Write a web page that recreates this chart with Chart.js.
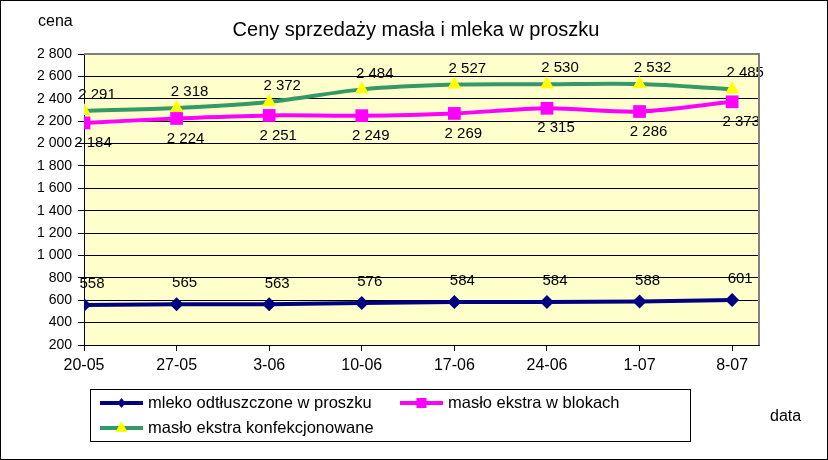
<!DOCTYPE html>
<html>
<head>
<meta charset="utf-8">
<script src="https://cdn.jsdelivr.net/npm/chart.js@4"></script>
<style>
  html, body { margin: 0; padding: 0; background: #fff; }
  #wrap { width: 828px; height: 460px; }
</style>
</head>
<body>
<div id="wrap"><canvas id="cenyChart" width="828" height="460"></canvas></div>
<script>
const categories = ['20-05', '27-05', '3-06', '10-06', '17-06', '24-06', '1-07', '8-07'];
const mleko = [558, 565, 563, 576, 584, 584, 588, 601];
const blokach = [2184, 2224, 2251, 2249, 2269, 2315, 2286, 2373];
const konfekcjonowane = [2291, 2318, 2372, 2484, 2527, 2530, 2532, 2485];
const yTicks = [200, 400, 600, 800, 1000, 1200, 1400, 1600, 1800, 2000, 2200, 2400, 2600, 2800];

const FONT = '"Liberation Sans", Arial, sans-serif';
const fmt = v => String(v).replace(/\B(?=(\d{3})+(?!\d))/g, ' ');
const toXY = arr => arr.map((v, i) => ({ x: i, y: v }));

// label offsets relative to each point
const labelPos = [
  { dx: 8, dy: -21 },    // mleko - above
  { dx: 9, dy: 20 },     // bloki - below
  { dx: 13, dy: -16 }    // konfekcjonowane - above
];

const decorations = {
  id: 'decorations',
  beforeDraw(chart) {
    const { ctx, chartArea: a } = chart;
    ctx.save();
    ctx.fillStyle = '#ffffff';
    ctx.fillRect(0, 0, chart.width, chart.height);
    ctx.fillStyle = '#FFFFCC';
    ctx.fillRect(a.left, a.top, a.right - a.left, a.bottom - a.top);
    ctx.restore();
  },
  afterDatasetsDraw(chart) {
    const { ctx } = chart;
    ctx.save();
    ctx.font = '15px ' + FONT;
    ctx.fillStyle = '#000';
    ctx.textAlign = 'center';
    ctx.textBaseline = 'middle';
    chart.data.datasets.forEach((ds, di) => {
      const meta = chart.getDatasetMeta(di);
      meta.data.forEach((pt, i) => {
        ctx.fillText(fmt(ds.data[i].y), pt.x + labelPos[di].dx, pt.y + labelPos[di].dy);
      });
    });
    ctx.restore();
  },
  afterDraw(chart) {
    const { ctx, chartArea: a } = chart;
    ctx.save();
    // plot border top/right
    ctx.strokeStyle = '#808080';
    ctx.lineWidth = 2;
    ctx.beginPath();
    ctx.moveTo(a.left, a.top);
    ctx.lineTo(a.right, a.top);
    ctx.lineTo(a.right, a.bottom);
    ctx.stroke();

    // title and axis titles
    ctx.fillStyle = '#000';
    ctx.textBaseline = 'middle';
    ctx.textAlign = 'center';
    ctx.font = '20px ' + FONT;
    ctx.fillText('Ceny sprzedaży masła i mleka w proszku', 416, 30);
    ctx.textAlign = 'left';
    ctx.font = '16px ' + FONT;
    ctx.fillText('cena', 38, 22);
    ctx.fillText('data', 770, 417);

    // legend
    ctx.strokeStyle = '#000';
    ctx.lineWidth = 1;
    ctx.strokeRect(90.5, 389.5, 600, 52);
    const slots = [[100, 403], [400, 403], [100, 428]];
    chart.data.datasets.forEach((ds, di) => {
      const [x, y] = slots[di];
      ctx.strokeStyle = ds.borderColor;
      ctx.lineWidth = 4;
      ctx.beginPath();
      ctx.moveTo(x, y);
      ctx.lineTo(x + 43, y);
      ctx.stroke();
      const cx = x + 21.5;
      ctx.fillStyle = ds.pointBackgroundColor;
      ctx.beginPath();
      if (ds.pointStyle === 'rectRot') {
        ctx.moveTo(cx - 4, y); ctx.lineTo(cx, y - 5); ctx.lineTo(cx + 4, y); ctx.lineTo(cx, y + 5);
      } else if (ds.pointStyle === 'rect') {
        ctx.rect(cx - 5, y - 5, 10, 10);
      } else {
        ctx.moveTo(cx, y - 7); ctx.lineTo(cx + 6, y + 4); ctx.lineTo(cx - 6, y + 4);
      }
      ctx.closePath();
      ctx.fill();
      ctx.fillStyle = '#000';
      ctx.font = '16.5px ' + FONT;
      ctx.fillText(ds.label, x + 48, y);
    });

    // outer border
    ctx.strokeStyle = '#000';
    ctx.lineWidth = 1;
    ctx.strokeRect(0.5, 0.5, chart.width - 1, chart.height - 1);
    ctx.restore();
  }
};

new Chart(document.getElementById('cenyChart').getContext('2d'), {
  type: 'line',
  data: {
    datasets: [{
      label: 'mleko odtłuszczone w proszku',
      data: toXY(mleko),
      borderColor: '#000080',
      backgroundColor: '#000080',
      pointBackgroundColor: '#000080',
      pointBorderColor: '#000080',
      pointBorderWidth: 0,
      pointStyle: 'rectRot',
      pointRadius: 7,
      borderWidth: 4,
      tension: 0
    }, {
      label: 'masło ekstra w blokach',
      data: toXY(blokach),
      borderColor: '#FF00FF',
      backgroundColor: '#FF00FF',
      pointBackgroundColor: '#FF00FF',
      pointBorderColor: '#FF00FF',
      pointBorderWidth: 0,
      pointStyle: 'rect',
      pointRadius: 9,
      borderWidth: 4,
      tension: 0.3
    }, {
      label: 'masło ekstra konfekcjonowane',
      data: toXY(konfekcjonowane),
      borderColor: '#339966',
      backgroundColor: '#FFFF00',
      pointBackgroundColor: '#FFFF00',
      pointBorderColor: '#FFFF00',
      pointBorderWidth: 0,
      pointStyle: 'triangle',
      pointRadius: 8,
      borderWidth: 4,
      tension: 0.3
    }]
  },
  options: {
    responsive: false,
    animation: false,
    layout: { padding: { top: 54, right: 69, left: 0, bottom: 85 } },
    plugins: {
      legend: { display: false },
      tooltip: { enabled: false }
    },
    scales: {
      x: {
        type: 'linear',
        min: 0,
        max: 7.29,
        afterBuildTicks: s => { s.ticks = categories.map((_, i) => ({ value: i })); },
        afterFit: s => { s.height = 30; },
        ticks: {
          autoSkip: false,
          maxRotation: 0,
          padding: 5,
          color: '#000',
          font: { family: FONT, size: 16 },
          callback: v => categories[v]
        },
        grid: { drawOnChartArea: false, drawTicks: true, tickLength: 6, color: '#000' },
        border: { display: true, color: '#000', width: 1 }
      },
      y: {
        min: 200,
        max: 2800,
        afterBuildTicks: s => { s.ticks = yTicks.map(v => ({ value: v })); },
        afterFit: s => { s.width = 84; },
        ticks: {
          padding: 6,
          color: '#000',
          font: { family: FONT, size: 14 },
          callback: v => fmt(v)
        },
        grid: { color: '#000', lineWidth: 1, tickLength: 6 },
        border: { display: true, color: '#000', width: 1 }
      }
    }
  },
  plugins: [decorations]
});
</script>
</body>
</html>
